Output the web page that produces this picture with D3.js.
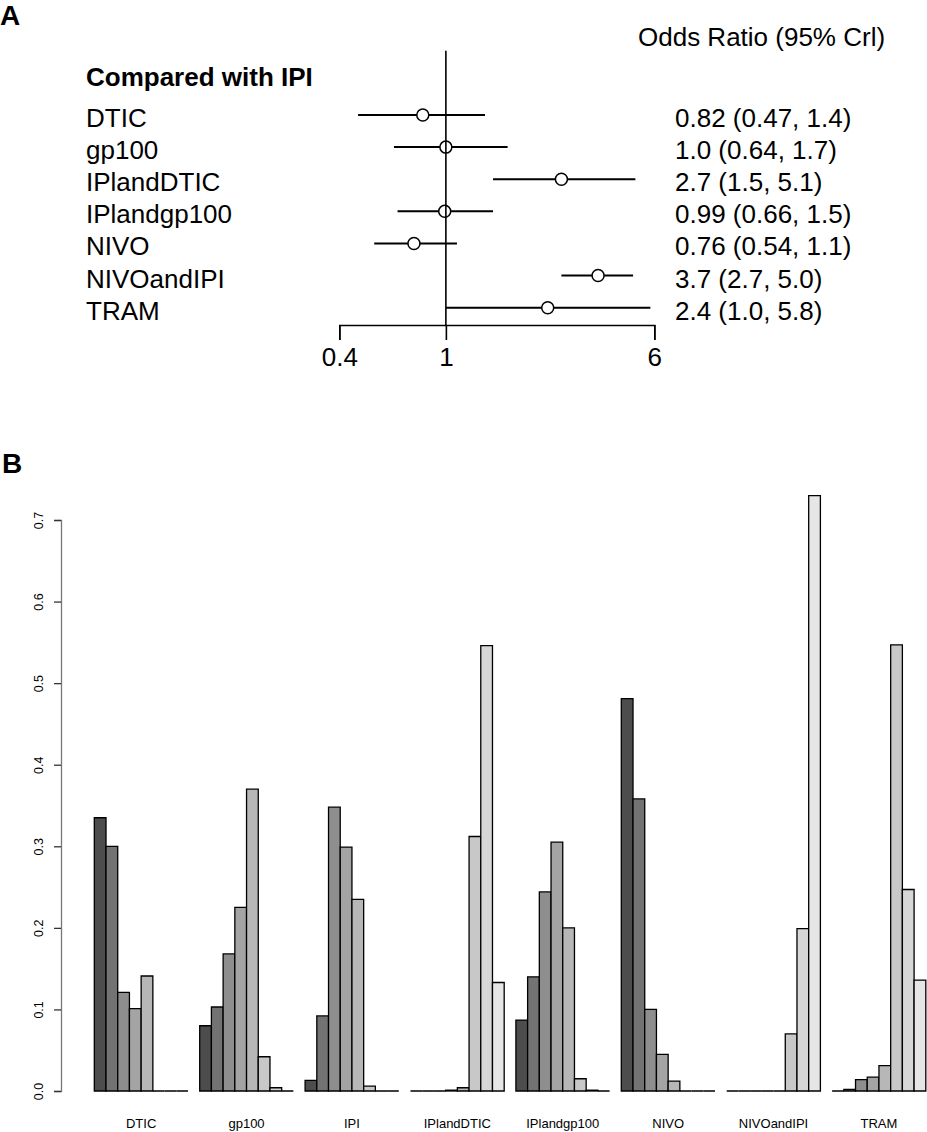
<!DOCTYPE html>
<html>
<head>
<meta charset="utf-8">
<script src="https://cdn.jsdelivr.net/npm/d3@7"></script>
<style>
  body { margin: 0; background: #fff; }
  svg { display: block; font-family: 'Liberation Sans', Arial, sans-serif; }
</style>
</head>
<body>
<div id="graph"></div>
<script>
// Panel A data: odds ratios vs IPI
const forestNames = ['DTIC', 'gp100', 'IPlandDTIC', 'IPlandgp100', 'NIVO', 'NIVOandIPI', 'TRAM'];
const oddsRatio = [0.82, 1.0, 2.7, 0.99, 0.76, 3.7, 2.4];
const lowerCrl = [0.47, 0.64, 1.5, 0.66, 0.54, 2.7, 1.0];
const upperCrl = [1.4, 1.7, 5.1, 1.5, 1.1, 5.0, 5.8];
const orTicks = [0.4, 1, 6];

// Panel B data: rank probabilities (rank 1..8) per treatment
const treatments = ['DTIC', 'gp100', 'IPI', 'IPlandDTIC', 'IPlandgp100', 'NIVO', 'NIVOandIPI', 'TRAM'];
const ranks = ['1', '2', '3', '4', '5', '6', '7', '8'];
const probDTIC = [0.335, 0.300, 0.121, 0.101, 0.141, 0, 0, 0];
const probGp100 = [0.080, 0.103, 0.168, 0.225, 0.370, 0.042, 0.004, 0];
const probIPI = [0.013, 0.092, 0.348, 0.299, 0.235, 0.006, 0, 0];
const probIPlandDTIC = [0, 0, 0, 0.001, 0.004, 0.312, 0.546, 0.133];
const probIPlandgp100 = [0.087, 0.140, 0.244, 0.305, 0.200, 0.015, 0.001, 0];
const probNIVO = [0.481, 0.358, 0.100, 0.045, 0.012, 0, 0, 0];
const probNIVOandIPI = [0, 0, 0, 0, 0, 0.070, 0.199, 0.730];
const probTRAM = [0, 0.002, 0.014, 0.017, 0.031, 0.547, 0.247, 0.136];
const probTicks = [0, 0.1, 0.2, 0.3, 0.4, 0.5, 0.6, 0.7];
const rankGrays = ['#4d4d4d', '#737373', '#8e8e8e', '#a4a4a4', '#b7b7b7', '#c8c8c8', '#d7d7d7', '#e6e6e6'];

const width = 927;
const height = 1132;

const svg = d3.select('#graph')
  .append('svg')
    .attr('width', width)
    .attr('height', height);

// ---------- Panel A: forest plot ----------
const forest = forestNames.map((name, i) => ({
  name,
  or: oddsRatio[i],
  lo: lowerCrl[i],
  hi: upperCrl[i]
}));

const xOR = d3.scaleLog()
  .domain([0.4, 6])
  .range([339.3, 654.3]);

const yRow = d3.scalePoint()
  .domain(forestNames)
  .range([115, 307.7]);

const fmt = d3.format('.2r');

svg.append('text')
  .attr('x', 0)
  .attr('y', 25)
  .style('font-size', '28px')
  .style('font-weight', 'bold')
  .text('A');

svg.append('text')
  .attr('x', 638)
  .attr('y', 46)
  .style('font-size', '26px')
  .text('Odds Ratio (95% Crl)');

svg.append('text')
  .attr('x', 86)
  .attr('y', 86)
  .style('font-size', '26px')
  .style('font-weight', 'bold')
  .text('Compared with IPI');

const rowsA = svg.append('g');

rowsA.selectAll('text.name')
  .data(forest)
  .join('text')
    .attr('class', 'name')
    .attr('x', 86)
    .attr('y', (d) => yRow(d.name) + 12)
    .style('font-size', '26px')
    .text((d) => d.name);

rowsA.selectAll('text.est')
  .data(forest)
  .join('text')
    .attr('class', 'est')
    .attr('x', 675)
    .attr('y', (d) => yRow(d.name) + 12)
    .style('font-size', '26px')
    .text((d) => `${fmt(d.or)} (${fmt(d.lo)}, ${fmt(d.hi)})`);

rowsA.selectAll('line.ci')
  .data(forest)
  .join('line')
    .attr('class', 'ci')
    .attr('x1', (d) => xOR(d.lo))
    .attr('x2', (d) => xOR(d.hi))
    .attr('y1', (d) => yRow(d.name))
    .attr('y2', (d) => yRow(d.name))
    .attr('stroke', '#000')
    .attr('stroke-width', 2);

// reference line at OR = 1
svg.append('line')
  .attr('x1', xOR(1))
  .attr('x2', xOR(1))
  .attr('y1', 50.7)
  .attr('y2', 325)
  .attr('stroke', '#000')
  .attr('stroke-width', 1.6);

rowsA.selectAll('circle')
  .data(forest)
  .join('circle')
    .attr('cx', (d) => xOR(d.or))
    .attr('cy', (d) => yRow(d.name))
    .attr('r', 6)
    .attr('fill', '#fff')
    .attr('stroke', '#000')
    .attr('stroke-width', 1.5);

const axisA = svg.append('g')
  .attr('transform', 'translate(0,325)')
  .call(d3.axisBottom(xOR)
    .tickValues(orTicks)
    .tickFormat(d3.format('~g'))
    .tickSize(15)
    .tickPadding(8));

axisA.selectAll('path, line')
  .attr('stroke', '#000')
  .attr('stroke-width', 1.6);
axisA.selectAll('text')
  .attr('fill', '#000')
  .style('font-size', '26px')
  .style('font-family', "'Liberation Sans', Arial, sans-serif");

// ---------- Panel B: rank probability bars ----------
const probs = [probDTIC, probGp100, probIPI, probIPlandDTIC, probIPlandgp100, probNIVO, probNIVOandIPI, probTRAM];
const bars = treatments.flatMap((t, i) => ranks.map((r, j) => ({
  treatment: t,
  rank: r,
  value: probs[i][j]
})));

svg.append('text')
  .attr('x', 2)
  .attr('y', 473)
  .style('font-size', '28px')
  .style('font-weight', 'bold')
  .text('B');

const xGroup = d3.scaleBand()
  .domain(treatments)
  .range([94.3, 925.8])
  .paddingInner(1 / 9)
  .paddingOuter(0);

const xRank = d3.scaleBand()
  .domain(ranks)
  .range([0, xGroup.bandwidth()])
  .padding(0);

const yProb = d3.scaleLinear()
  .domain([0, 0.7])
  .range([1091, 520]);

const colour = d3.scaleOrdinal()
  .domain(ranks)
  .range(rankGrays);

// a path still strokes when the bar has zero height
const barPath = (d) => {
  const x0 = xGroup(d.treatment) + xRank(d.rank);
  const x1 = x0 + xRank.bandwidth();
  return `M${x0},${yProb(0)}V${yProb(d.value)}H${x1}V${yProb(0)}Z`;
};

svg.append('g')
  .selectAll('path')
  .data(bars)
  .join('path')
    .attr('d', barPath)
    .attr('fill', (d) => colour(d.rank))
    .attr('stroke', '#000')
    .attr('stroke-width', 1.3);

const axisB = svg.append('g')
  .attr('transform', 'translate(61,0)')
  .call(d3.axisLeft(yProb)
    .tickValues(probTicks)
    .tickFormat(d3.format('.1f'))
    .tickSize(7));

axisB.select('.domain')
  .attr('stroke', '#777')
  .attr('stroke-width', 1.3);
axisB.selectAll('.tick line')
  .attr('stroke', '#333')
  .attr('stroke-width', 1.3);
axisB.selectAll('.tick text')
  .attr('x', 0)
  .attr('y', -18)
  .attr('dy', null)
  .attr('transform', 'rotate(-90)')
  .attr('text-anchor', 'middle')
  .attr('fill', '#000')
  .style('font-size', '12.5px')
  .style('font-family', "'Liberation Sans', Arial, sans-serif");

svg.append('g')
  .selectAll('text')
  .data(treatments)
  .join('text')
    .attr('x', (d) => xGroup(d) + xGroup.bandwidth() / 2)
    .attr('y', 1128)
    .attr('text-anchor', 'middle')
    .style('font-size', '13px')
    .text((d) => d);
</script>
</body>
</html>
